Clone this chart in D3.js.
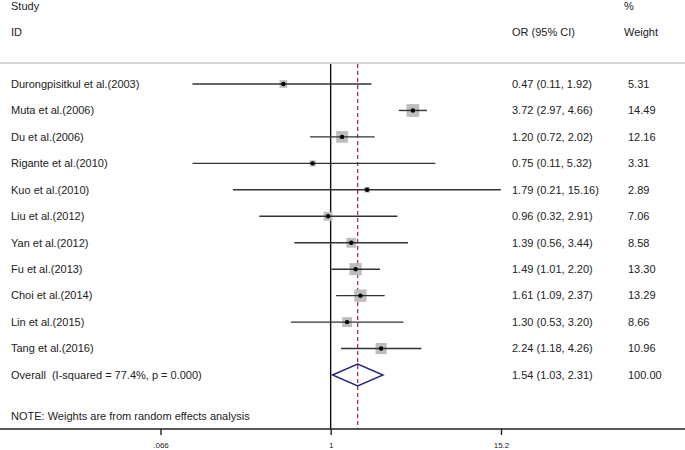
<!DOCTYPE html>
<html><head><meta charset="utf-8">
<script src="https://cdn.jsdelivr.net/npm/d3@7"></script>
<style>body{margin:0;background:#fff}svg{display:block}text{font-family:"Liberation Sans",Arial,sans-serif;fill:#222;white-space:pre}</style>
</head><body>
<svg id="c" width="685" height="450"></svg>
<script>
const studies = ["Durongpisitkul et al.(2003)","Muta et al.(2006)","Du et al.(2006)","Rigante et al.(2010)","Kuo et al.(2010)","Liu et al.(2012)","Yan et al.(2012)","Fu et al.(2013)","Choi et al.(2014)","Lin et al.(2015)","Tang et al.(2016)"];
const orValues = [0.47,3.72,1.20,0.75,1.79,0.96,1.39,1.49,1.61,1.30,2.24];
const lowerCI = [0.11,2.97,0.72,0.11,0.21,0.32,0.56,1.01,1.09,0.53,1.18];
const upperCI = [1.92,4.66,2.02,5.32,15.16,2.91,3.44,2.20,2.37,3.20,4.26];
const weights = ["5.31","14.49","12.16","3.31","2.89","7.06","8.58","13.30","13.29","8.66","10.96"];
const overallLabel = "Overall  (I-squared = 77.4%, p = 0.000)";
const overall = {or:1.54, lo:1.03, hi:2.31, weight:"100.00"};
const tickValues = [0.066, 1, 15.2];
const tickLabels = [".066","1","15.2"];

const svg = d3.select("#c");
const x = d3.scaleLog().domain([0.066, 15.2]).range([160.5, 501]);
const nRows = studies.length + 1;
const y = d3.scaleLinear().domain([0, nRows-1]).range([84, 375]);
const axisY = 429, topY = 63;
const fmt = v => v.toFixed(2);

// header
const hdr = svg.append("g").attr("font-size", 11);
hdr.append("text").attr("x", 11).attr("y", 6).attr("dy","0.35em").text("Study");
hdr.append("text").attr("x", 11).attr("y", 32).attr("dy","0.35em").text("ID");
hdr.append("text").attr("x", 512).attr("y", 32).attr("dy","0.35em").text("OR (95% CI)");
hdr.append("text").attr("x", 624).attr("y", 6).attr("dy","0.35em").text("%");
hdr.append("text").attr("x", 624).attr("y", 32).attr("dy","0.35em").text("Weight");
svg.append("line").attr("x1",0).attr("x2",685).attr("y1",topY).attr("y2",topY).attr("stroke","#c8c8c8").attr("stroke-width",1.6);

// null line and overall dashed line
svg.append("line").attr("x1",x(1)).attr("x2",x(1)).attr("y1",topY+1).attr("y2",axisY).attr("stroke","#111").attr("stroke-width",1.4);
svg.append("line").attr("x1",x(overall.or)).attr("x2",x(overall.or)).attr("y1",topY+1).attr("y2",axisY).attr("stroke","#a33a3a").attr("stroke-width",1.3).attr("stroke-dasharray","4,3");

// rows
const rows = studies.map((s,i)=>({s, or:orValues[i], lo:lowerCI[i], hi:upperCI[i], w:weights[i], i}));
const g = svg.append("g");
g.selectAll(".sq").data(rows).join("rect")
  .attr("x", d => x(d.or) - 1.67*Math.sqrt(+d.w))
  .attr("y", d => y(d.i) - 1.67*Math.sqrt(+d.w))
  .attr("width", d => 3.35*Math.sqrt(+d.w))
  .attr("height", d => 3.35*Math.sqrt(+d.w))
  .attr("fill","#bdbdbd");
g.selectAll(".ci").data(rows).join("line")
  .attr("x1", d => x(d.lo)).attr("x2", d => x(d.hi))
  .attr("y1", d => y(d.i)).attr("y2", d => y(d.i))
  .attr("stroke","#333").attr("stroke-width",1.4);
g.selectAll(".pt").data(rows).join("circle")
  .attr("cx", d => x(d.or)).attr("cy", d => y(d.i)).attr("r", 2.2).attr("fill","#000");

const tg = svg.append("g").attr("font-size", 11);
tg.selectAll(".lab").data(rows).join("text").attr("x",11).attr("y",d=>y(d.i)).attr("dy","0.35em").text(d=>d.s);
tg.selectAll(".orl").data(rows).join("text").attr("x",512).attr("y",d=>y(d.i)).attr("dy","0.35em")
  .text(d=>`${fmt(d.or)} (${fmt(d.lo)}, ${fmt(d.hi)})`);
tg.selectAll(".wl").data(rows).join("text").attr("x",628).attr("y",d=>y(d.i)).attr("dy","0.35em").text(d=>d.w);

// overall
const oy = y(nRows-1);
svg.append("path")
  .attr("d", `M${x(overall.lo)},${oy} L${x(overall.or)},${oy-11} L${x(overall.hi)},${oy} L${x(overall.or)},${oy+11} Z`)
  .attr("fill","none").attr("stroke","#262680").attr("stroke-width",1.4);
tg.append("text").attr("x",11).attr("y",oy).attr("dy","0.35em").text(overallLabel);
tg.append("text").attr("x",512).attr("y",oy).attr("dy","0.35em").text(`${fmt(overall.or)} (${fmt(overall.lo)}, ${fmt(overall.hi)})`);
tg.append("text").attr("x",628).attr("y",oy).attr("dy","0.35em").text(overall.weight);
tg.append("text").attr("x",11).attr("y",416).attr("dy","0.35em").text("NOTE: Weights are from random effects analysis");

// axis
svg.append("line").attr("x1",0).attr("x2",685).attr("y1",axisY).attr("y2",axisY).attr("stroke","#222").attr("stroke-width",1.4);
const ax = svg.append("g").attr("transform",`translate(0,${axisY})`)
  .call(d3.axisBottom(x).tickValues(tickValues).tickSize(6).tickPadding(7).tickFormat((d,i)=>tickLabels[i]));
ax.select(".domain").remove();
ax.selectAll(".tick line").attr("stroke","#222").attr("stroke-width",1.4);
ax.selectAll(".tick text").attr("font-size",8).attr("fill","#222").attr("font-family","Liberation Sans, Arial, sans-serif");
</script>
</body></html>
